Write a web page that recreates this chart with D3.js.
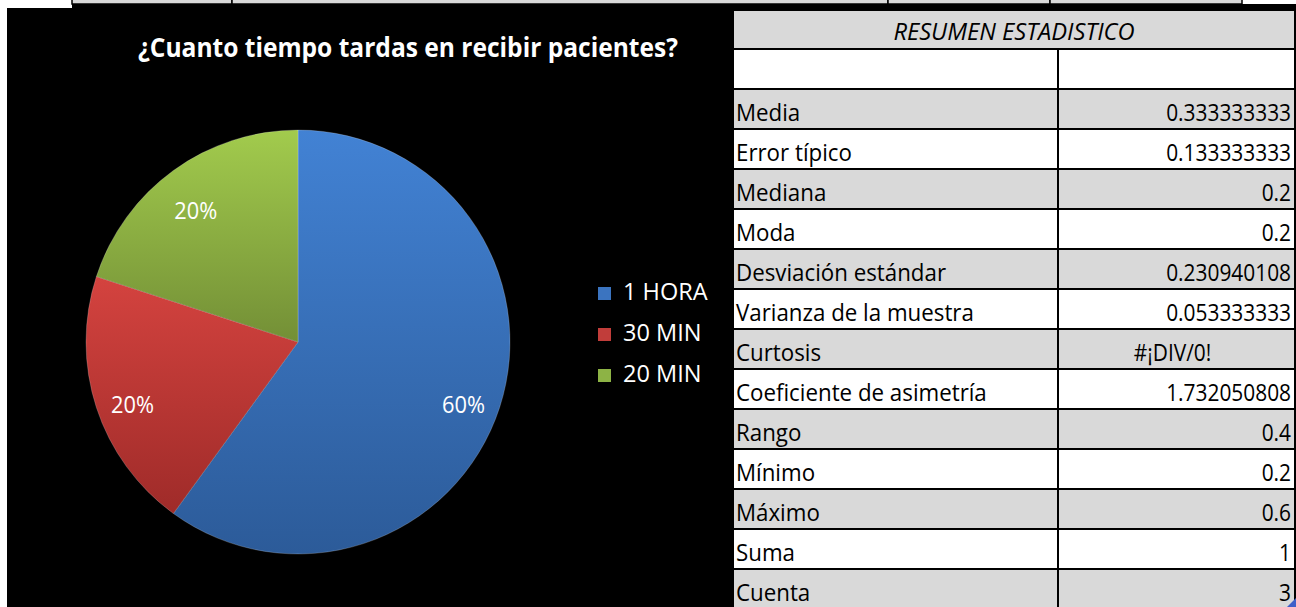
<!DOCTYPE html>
<html>
<head>
<meta charset="utf-8">
<script src="https://cdn.jsdelivr.net/npm/d3@7"></script>
<style>
  html, body { margin: 0; padding: 0; background: #ffffff; }
  svg { display: block; }
  text { font-family: "Open Sans", "Noto Sans", sans-serif; }
</style>
</head>
<body>
<svg id="chart" width="1296" height="607"></svg>
<script>
// ---- data ----
const title = "¿Cuanto tiempo tardas en recibir pacientes?";
const categories = ["1 HORA", "30 MIN", "20 MIN"];
const values = [0.6, 0.2, 0.2];
const tableTitle = "RESUMEN ESTADISTICO";
const statLabels = ["Media", "Error típico", "Mediana", "Moda", "Desviación estándar",
  "Varianza de la muestra", "Curtosis", "Coeficiente de asimetría", "Rango",
  "Mínimo", "Máximo", "Suma", "Cuenta"];
const statValues = ["0.333333333", "0.133333333", "0.2", "0.2", "0.230940108",
  "0.053333333", "#¡DIV/0!", "1.732050808", "0.4", "0.2", "0.6", "1", "3"];

// ---- styles ----
const gradStops = [
  ["#4282d4", "#2c5b99"],
  ["#d4433f", "#9f2b29"],
  ["#a2cb4d", "#738f36"]
];
const legendColors = ["#3b74c0", "#c13d3a", "#8db345"];
const grey = "#d9d9d9";
const SX = 0.93;      // horizontal squeeze of spreadsheet labels (Calibri-like)
const SXV = 0.87;     // horizontal squeeze of spreadsheet numbers

const svg = d3.select("#chart");
const defs = svg.append("defs");

// page background pieces
svg.append("rect").attr("x", 7).attr("y", 4).attr("width", 1289).attr("height", 603).attr("fill", "#000");
svg.append("rect").attr("x", 0).attr("y", 0).attr("width", 72).attr("height", 8).attr("fill", "#fff");
// top strip of cells (cut off)
const stripX = [72, 232, 888, 1050, 1242];
for (let i = 0; i < stripX.length - 1; i++) {
  svg.append("rect").attr("x", stripX[i]).attr("y", -2)
    .attr("width", stripX[i + 1] - stripX[i]).attr("height", 6)
    .attr("fill", grey).attr("stroke", "#000").attr("stroke-width", 1.5);
}

function stretchedText(g, x, y, str, opts) {
  return g.append("text")
    .attr("transform", `translate(${x},${y}) scale(${opts.sx || 1},1)`)
    .attr("text-anchor", opts.anchor || "start")
    .attr("font-size", opts.size)
    .attr("font-weight", opts.weight || "normal")
    .attr("font-style", opts.style || "normal")
    .attr("fill", opts.fill || "#000")
    .text(str);
}

// ---- title ----
stretchedText(svg, 408, 57, title, {size: 26, weight: "bold", fill: "#fff", anchor: "middle", sx: 0.945});

// ---- pie ----
const cx = 298, cy = 342, R = 212;
const pie = d3.pie().sort(null).value(d => d)(values);
const arc = d3.arc().innerRadius(0).outerRadius(R);
const labelArc = d3.arc().innerRadius(174).outerRadius(174);
const pg = svg.append("g").attr("transform", `translate(${cx},${cy})`);

pie.forEach((p, i) => {
  const gr = defs.append("linearGradient").attr("id", "g" + i)
    .attr("x1", 0).attr("y1", 0).attr("x2", 0).attr("y2", 1);
  gr.append("stop").attr("offset", "0%").attr("stop-color", gradStops[i][0]);
  gr.append("stop").attr("offset", "100%").attr("stop-color", gradStops[i][1]);
});

pg.selectAll("path.slice").data(pie).join("path")
  .attr("class", "slice")
  .attr("d", arc)
  .attr("fill", (d, i) => `url(#g${i})`)
  .attr("stroke", "rgba(255,255,255,0.25)")
  .attr("stroke-width", 0.8);

pg.selectAll("text.lbl").data(pie).join("text")
  .attr("class", "lbl")
  .attr("transform", d => { const c = labelArc.centroid(d); return `translate(${c[0]},${c[1] + 9}) scale(0.95,1)`; })
  .attr("text-anchor", "middle")
  .attr("dominant-baseline", "central")
  .attr("font-size", 23)
  .attr("fill", "#fff")
  .text(d => d3.format(".0%")(d.value));

// ---- legend ----
const legendY = d3.scalePoint().domain(categories).range([300, 382]);
const lg = svg.append("g");
categories.forEach((c, i) => {
  const y = legendY(c);
  lg.append("rect").attr("x", 598).attr("y", y - 13).attr("width", 13).attr("height", 13)
    .attr("fill", legendColors[i]);
  stretchedText(lg, 623, y, c, {size: 24, fill: "#fff", sx: 0.98});
});

// ---- statistics table ----
const tx0 = 733, tx1 = 1058, tx2 = 1295, ty0 = 10, headH = 39, rowH = 40;
const tg = svg.append("g");
const rowY = d3.scaleLinear().domain([0, 1]).range([ty0 + headH, ty0 + headH + rowH]);
// header
tg.append("rect").attr("x", tx0).attr("y", ty0).attr("width", tx2 - tx0).attr("height", headH)
  .attr("fill", grey).attr("stroke", "#000").attr("stroke-width", 2);
stretchedText(tg, (tx0 + tx2) / 2, ty0 + 30, tableTitle, {size: 23, style: "italic", anchor: "middle", sx: 1.03});
// blank row + stat rows
const rows = [{label: "", value: ""}].concat(statLabels.map((l, i) => ({label: l, value: statValues[i]})));
rows.forEach((r, i) => {
  const y = rowY(i);
  const fill = i % 2 === 1 ? grey : "#fff";
  tg.append("rect").attr("x", tx0).attr("y", y).attr("width", tx1 - tx0).attr("height", rowH)
    .attr("fill", fill).attr("stroke", "#000").attr("stroke-width", 2);
  tg.append("rect").attr("x", tx1).attr("y", y).attr("width", tx2 - tx1).attr("height", rowH)
    .attr("fill", fill).attr("stroke", "#000").attr("stroke-width", 2);
  if (r.label) {
    stretchedText(tg, tx0 + 3, y + 32, r.label, {size: 24, sx: SX});
    const isErr = r.value.startsWith("#");
    stretchedText(tg, isErr ? (tx1 + tx2) / 2 - 4 : tx2 - 4, y + 32, r.value,
      {size: 24, sx: SXV, anchor: isErr ? "middle" : "end"});
  }
});
// fill handle marker
tg.append("path").attr("d", `M${tx2 - 8},${607} L${tx2 + 1},${598} L${tx2 + 1},${607} Z`).attr("fill", "#3e5fc9");
</script>
</body>
</html>
